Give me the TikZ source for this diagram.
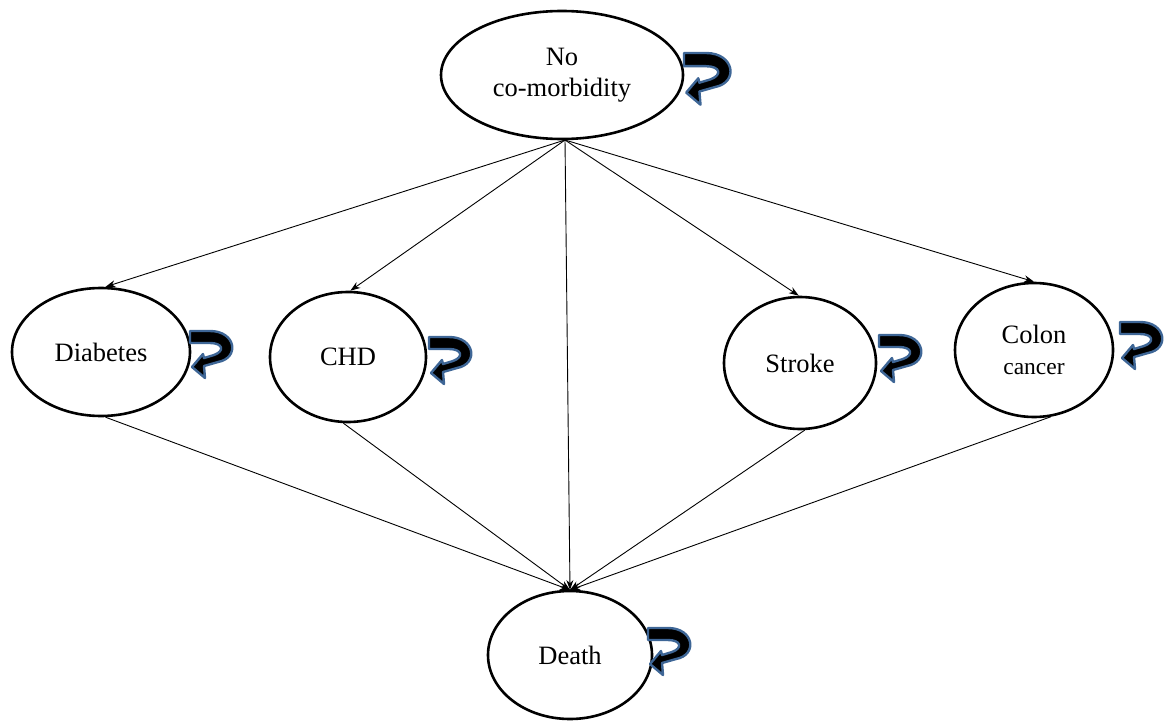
\documentclass[tikz,border=0pt]{standalone}
\usepackage{fontspec}
\setmainfont{Liberation Serif}
\usetikzlibrary{shapes.geometric,arrows.meta}
\definecolor{loopblue}{RGB}{62,102,150}
\tikzset{
  state/.style={ellipse,draw=black,line width=2.6pt,fill=white,inner sep=0pt,align=center,font=\fontsize{26.5}{31}\selectfont},
  trans/.style={draw=black,line width=0.9pt,-{Stealth[length=10pt,width=7pt]}},
  pics/uturn/.style={code={
    \path[fill=black,draw=loopblue,line width=2.4pt,line join=round]
      (0,0) -- (20,0) .. controls (46,0) and (50,27) .. (28,31) -- (14,35) -- (15,47) -- (2,36) -- (13,23) -- (14,27)
      -- (24,24) .. controls (35,20) and (33,12) .. (20,12) -- (0,12) -- cycle;
  }}
}
\begin{document}
\begin{tikzpicture}[x=1pt,y=-1pt]
\useasboundingbox (0,0) rectangle (1169,722);

\node[state,minimum width=242pt,minimum height=128pt] (nocom) at (562,75) {No\\co-morbidity};
\node[state,minimum width=178pt,minimum height=128pt] (diab) at (101,352) {Diabetes};
\node[state,minimum width=156pt,minimum height=130pt] (chd) at (348,357) {CHD};
\node[state,minimum width=152pt,minimum height=132pt] (stroke) at (800,363) {Stroke};
\node[state,minimum width=158pt,minimum height=134pt] (colon) at (1034,350) {Colon\\{\fontsize{23.5}{28}\selectfont cancer}};
\node[state,minimum width=164pt,minimum height=128pt] (death) at (570,655) {Death};

\coordinate (src) at (565,140);
\coordinate (dst) at (570,590);

\draw[trans] (src) -- (diab.86);
\draw[trans] (src) -- (chd.88);
\draw[trans] (src) -- (dst);
\draw[trans] (src) -- (stroke.91);
\draw[trans] (src) -- (colon.90);

\draw[trans] (diab.-86) -- (dst);
\draw[trans] (chd.-94) -- (dst);
\draw[trans] (stroke.-86) -- (dst);
\draw[trans] (colon.-76) -- (dst);

\pic[scale=1.1] at (684,53) {uturn};
\pic at (190,331) {uturn};
\pic at (429,337) {uturn};
\pic at (879,335) {uturn};
\pic at (1120,322) {uturn};
\pic at (648,628) {uturn};
\end{tikzpicture}
\end{document}
